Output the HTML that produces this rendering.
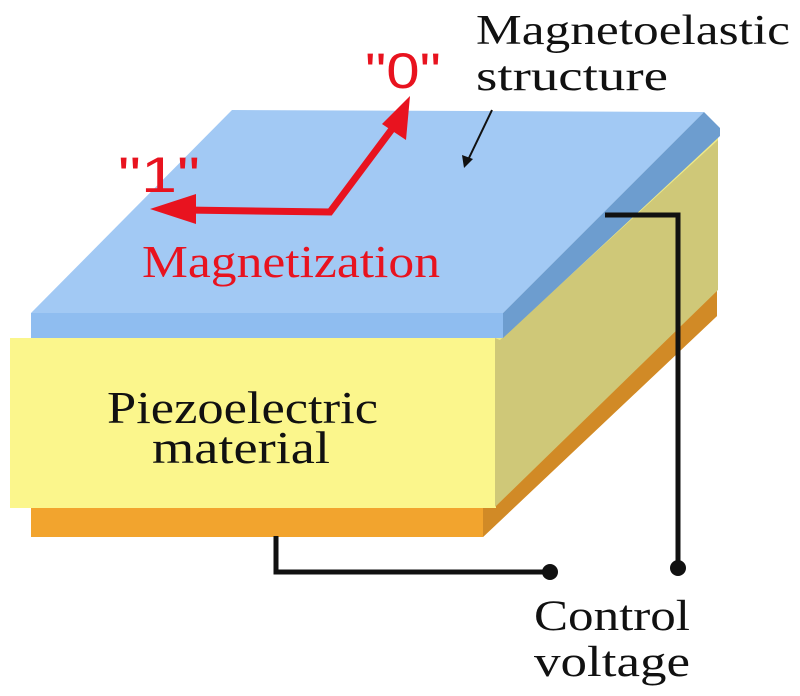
<!DOCTYPE html>
<html><head><meta charset="utf-8"><style>
html,body{margin:0;padding:0;background:#fff;}
svg{display:block;}
.s{font-family:"Liberation Serif",serif;}
</style></head><body>
<svg width="800" height="696" viewBox="0 0 800 696" xmlns="http://www.w3.org/2000/svg">
<rect width="800" height="696" fill="#fff"/>
<polygon points="31,505 495,505 717,288 717,316 483,537 31,537" fill="#f2a42e"/>
<polygon points="483,505 717,288 717,316 483,537" fill="#d18a26"/>
<rect x="10" y="338" width="486" height="170" fill="#fbf68c"/>
<polygon points="495,338 718,133 718,290 495,507" fill="#cfc878"/>
<polygon points="495,338 718,133 718,140 500,340" fill="#eeea8a"/>
<polygon points="232,110 704,112 503,313 31,313" fill="#a2c9f4"/>
<rect x="31" y="313" width="472" height="25" fill="#8fbdf0"/>
<polygon points="503,313 704,112 720,128 720,136 503,338" fill="#6d9dcf"/>
<polyline points="605,215 678,215 678,568" fill="none" stroke="#111" stroke-width="5"/>
<circle cx="678" cy="568" r="8" fill="#111"/>
<polyline points="276,536 276,572 550,572" fill="none" stroke="#111" stroke-width="5"/>
<circle cx="550" cy="572" r="8" fill="#111"/>
<polyline points="395,125 330,212 185,210" fill="none" stroke="#e8131f" stroke-width="7"/>
<polygon points="410,96 406,140 382,124" fill="#e8131f"/>
<polygon points="150,209 196,194 196,224" fill="#e8131f"/>
<line x1="492" y1="110" x2="468" y2="160" stroke="#111" stroke-width="2"/>
<polygon points="464,168 462,155 473,159" fill="#111"/>
<text x="365" y="88" font-family="Liberation Sans,sans-serif" font-size="50" fill="#e8131f" textLength="76" lengthAdjust="spacingAndGlyphs">"0"</text>
<text x="118" y="192" font-family="Liberation Sans,sans-serif" font-size="50" fill="#e8131f" textLength="82" lengthAdjust="spacingAndGlyphs">"1"</text>
<text x="142" y="277" class="s" font-size="46" fill="#e8131f" textLength="298" lengthAdjust="spacingAndGlyphs">Magnetization</text>
<text x="476" y="44" class="s" font-size="42" fill="#111" textLength="314" lengthAdjust="spacingAndGlyphs">Magnetoelastic</text>
<text x="476" y="90" class="s" font-size="42" fill="#111" textLength="192" lengthAdjust="spacingAndGlyphs">structure</text>
<text x="107" y="423" class="s" font-size="46" fill="#111" textLength="271" lengthAdjust="spacingAndGlyphs">Piezoelectric</text>
<text x="152" y="463" class="s" font-size="46" fill="#111" textLength="178" lengthAdjust="spacingAndGlyphs">material</text>
<text x="534" y="630" class="s" font-size="43" fill="#111" textLength="156" lengthAdjust="spacingAndGlyphs">Control</text>
<text x="534" y="676" class="s" font-size="43" fill="#111" textLength="156" lengthAdjust="spacingAndGlyphs">voltage</text>
</svg>
</body></html>
